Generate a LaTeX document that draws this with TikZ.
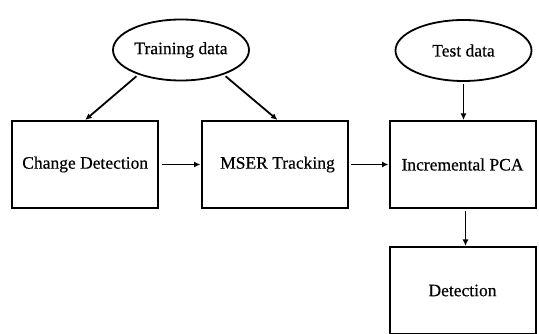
\documentclass[tikz,border=0pt]{standalone}
\usepackage{fontspec}
\setmainfont{Liberation Serif}
\newfontfamily\lblfont{Liberation Serif}[FakeBold=0.4]
\usetikzlibrary{arrows.meta,shapes.geometric}
\begin{document}
\begin{tikzpicture}[x=1pt,y=-1pt,
  lbl/.style={font=\lblfont\fontsize{17.5}{20}\selectfont},
  box/.style={lbl,draw,line width=2pt,minimum width=146pt,minimum height=87pt,inner sep=0pt},
  oval/.style={lbl,draw,ellipse,line width=1.8pt,minimum width=136pt,minimum height=61pt,inner sep=0pt},
  arr/.style={line width=1.8pt,-{Latex[length=6.5pt,width=6pt]},shorten <=2.5pt}]
\useasboundingbox (0,0) rectangle (539,334);
\node[oval] (tr) at (181,50) {Training data};
\node[oval] (te) at (463.5,50.5) {Test data};
\node[box] (cd) at (85.2,164.5) {Change Detection};
\node[box] (ms) at (274.5,164.5) {\hspace{6pt}MSER Tracking};
\node[box] (ip) at (462.5,164.5) {Incremental PCA};
\node[box] (de) at (462.5,290.5) {Detection};
\draw[arr] (tr.210) -- (cd.north);
\draw[arr] (tr.-30) -- ([xshift=3pt]ms.north);
\draw[arr] (te.south) -- (te.south |- ip.north);
\draw[arr] (cd) -- (ms);
\draw[arr] (ms) -- (ip);
\draw[arr] ([xshift=3pt]ip.south) -- ([xshift=3pt]de.north);
\end{tikzpicture}
\end{document}
